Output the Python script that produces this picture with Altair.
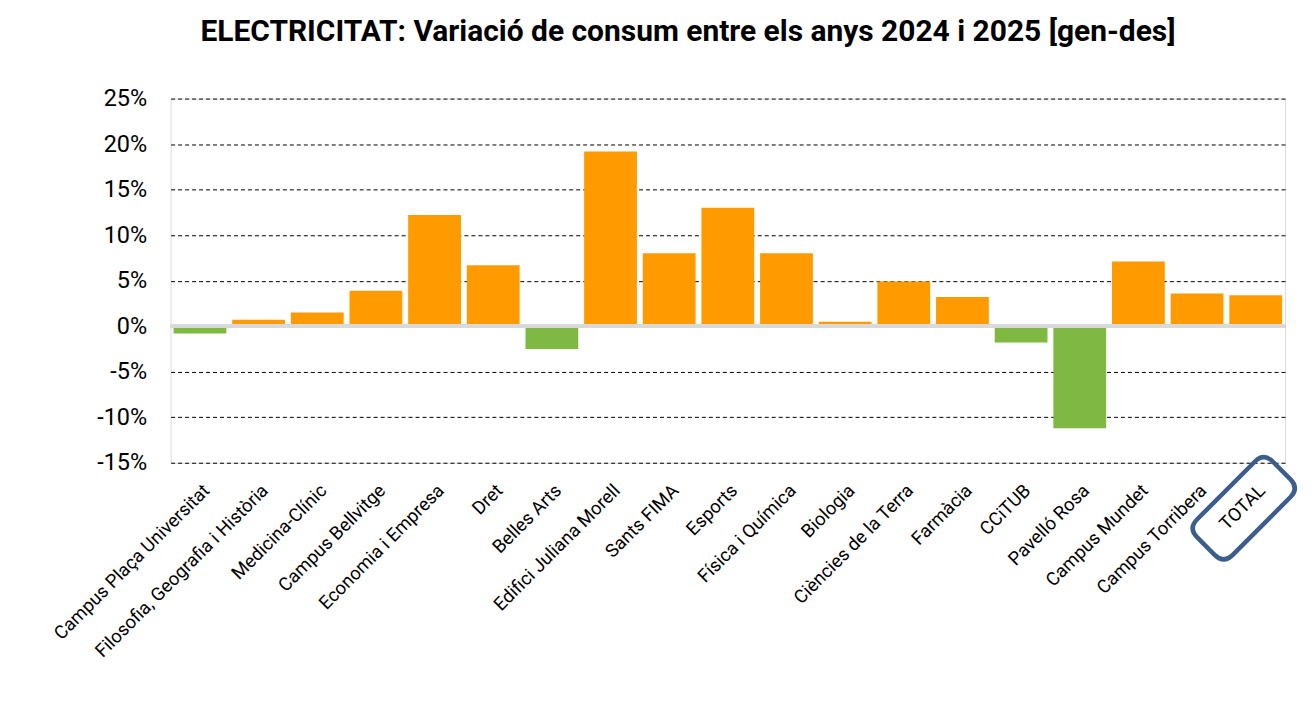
import altair as alt
import pandas as pd

categories = [
    "Campus Plaça Universitat", "Filosofia, Geografia i Història", "Medicina-Clínic",
    "Campus Bellvitge", "Economia i Empresa", "Dret", "Belles Arts",
    "Edifici Juliana Morell", "Sants FIMA", "Esports", "Física i Química",
    "Biologia", "Ciències de la Terra", "Farmàcia", "CCiTUB", "Pavelló Rosa",
    "Campus Mundet", "Campus Torribera", "TOTAL",
]
values = [
    -0.008, 0.007, 0.015, 0.039, 0.122, 0.067, -0.025,
    0.192, 0.080, 0.130, 0.080,
    0.005, 0.049, 0.032, -0.018, -0.112,
    0.071, 0.036, 0.034,
]
y_ticks = [-0.15, -0.10, -0.05, 0.0, 0.05, 0.10, 0.15, 0.20, 0.25]
highlight = ["TOTAL"]
highlight_y = [-0.2]

df = pd.DataFrame({"categoria": categories, "valor": values})
hl = pd.DataFrame({"categoria": highlight, "y": highlight_y})

W, H = 1117, 365
FONT = "Roboto"
ORANGE = "#FF9A00"
GREEN = "#80B941"

y_scale = alt.Scale(domain=[-0.15, 0.25], nice=False, zero=False)
x_scale = alt.Scale(paddingInner=0.1, paddingOuter=0.05)

x_enc = alt.X(
    "categoria:N", sort=categories, scale=x_scale,
    axis=alt.Axis(title=None, labelAngle=-45, labelFontSize=18.5, labelFont=FONT,
                  labelColor="#000", domain=False, ticks=False, labelPadding=18,
                  labelLimit=400),
)

bars = alt.Chart(df).mark_bar().encode(
    x=x_enc,
    y=alt.Y("valor:Q", scale=y_scale,
            axis=alt.Axis(title=None, format=".0%", values=y_ticks, labelFontSize=23.5,
                          labelFont=FONT, labelColor="#000", domain=False, ticks=False,
                          grid=True, gridDash=[4, 3], gridColor="#000", gridWidth=1,
                          gridOpacity=1, labelPadding=24,
                          labelExpr="replace(datum.label, '−', '-')")),
    color=alt.condition("datum.valor < 0", alt.value(GREEN), alt.value(ORANGE)),
)

zero_line = alt.Chart(df).mark_rule(color="#D9D9D9", strokeWidth=3).encode(
    y=alt.datum(0)
)

PATH = ("M -0.427 -0.691 Q -0.427 -0.909 -0.209 -0.909 L 0.209 -0.909 "
        "Q 0.427 -0.909 0.427 -0.691 L 0.427 0.691 Q 0.427 0.909 0.209 0.909 "
        "L -0.209 0.909 Q -0.427 0.909 -0.427 0.691 Z")

box = alt.Chart(hl).mark_point(
    shape=PATH, size=118 * 118, angle=45, filled=False, color="#3B5E8C",
    strokeWidth=4.5, opacity=1, xOffset=-12,
).encode(
    x=alt.X("categoria:N", sort=categories, scale=x_scale),
    y=alt.Y("y:Q", scale=y_scale),
)

chart = alt.layer(bars, zero_line, box).properties(
    width=W, height=H,
    title=alt.TitleParams(
        "ELECTRICITAT: Variació de consum entre els anys 2024 i 2025 [gen-des]",
        fontSize=30, font=FONT, fontWeight="bold", color="#000", offset=40, dx=-40,
    ),
    autosize=alt.AutoSizeParams(type="none"),
    padding={"left": 163, "top": 90, "right": 20, "bottom": 230},
).configure_view(stroke=None).configure(background="white")

chart.save("out.html", embed_options={"renderer": "svg", "actions": False})
